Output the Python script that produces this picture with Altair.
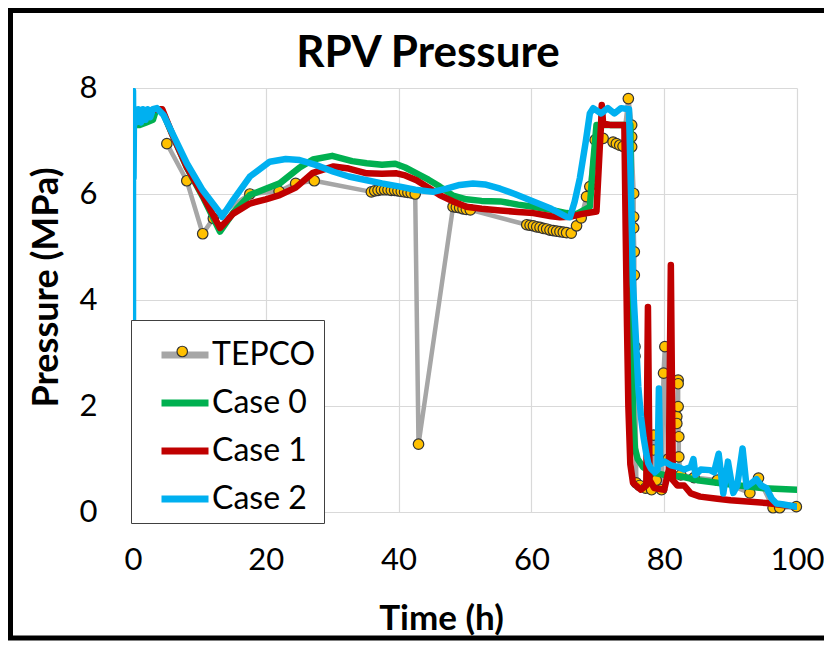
import altair as alt
import pandas as pd

# ---- data ----
series_names = ["TEPCO", "Case 0", "Case 1", "Case 2"]
series_colors = ["#A6A6A6", "#00B050", "#C00000", "#00B0F0"]

t_tepco = [5.1, 8.1, 10.5, 12.1, 17.6, 22.0, 24.5, 27.3,
           35.9, 36.4, 36.9, 37.4, 37.9, 38.4, 38.9, 39.4, 39.9, 40.4, 40.9, 41.4, 41.9, 42.5,
           43.0,
           48.2, 48.7, 49.2, 49.7, 50.2, 50.8,
           59.3, 59.8, 60.3, 60.8, 61.3, 61.8, 62.3, 62.8, 63.3, 63.8, 64.3, 64.8, 65.3, 66.0, 66.8,
           67.5, 68.3, 68.8, 69.6, 70.8, 72.3, 72.8, 73.3, 73.8,
           74.6, 75.1, 75.1, 75.1, 75.4, 75.4, 75.4, 75.5, 75.5, 75.6, 75.6,
           75.8, 76.3, 77.2, 78.1, 78.4, 78.4, 78.8, 79.6, 79.9, 80.1, 80.6, 81.9, 81.9,
           82.1, 82.1, 82.1, 82.2, 82.2, 82.5,
           84.5, 88.0, 92.9, 94.2, 96.4, 97.4, 99.9]
p_tepco = [6.95, 6.25, 5.25, 5.54, 6.0, 6.05, 6.2, 6.25,
           6.04, 6.06, 6.07, 6.08, 6.08, 6.08, 6.07, 6.07, 6.06, 6.05, 6.04, 6.03, 6.02, 6.0,
           1.28,
           5.76, 5.75, 5.74, 5.72, 5.71, 5.7,
           5.42, 5.41, 5.40, 5.38, 5.37, 5.35, 5.34, 5.32, 5.31, 5.30, 5.29, 5.28, 5.27, 5.26, 5.4,
           5.55, 5.95, 6.14, 7.02, 7.05, 6.98, 6.95, 6.92, 6.9,
           7.8, 7.3, 7.08, 6.89, 6.01, 5.57, 5.36, 4.91, 4.47, 3.12, 2.94,
           0.55, 0.5, 0.45, 0.42, 1.17, 1.45, 0.6, 0.42, 2.62, 3.12, 1.0, 1.8, 1.67,
           2.49, 2.42, 1.99, 1.42, 1.04, 0.7,
           0.65, 0.6, 0.36, 0.64, 0.08, 0.08, 0.1]

t_case0 = [0, 1, 2, 3, 3.5, 4.3, 6, 8.1, 10.5, 13.1, 15.1, 17.6, 20, 22.1, 25.1, 27.1,
           30.0, 33, 35.2, 37.5, 39.5, 41, 42.7, 44.5, 46.2, 48.2, 50.2, 52.5, 55.3, 58,
           60.3, 63, 65.3, 66.8, 68.8, 69.3, 69.8, 72, 74.9, 75.1, 75.3, 75.6, 76.0, 76.8,
           78, 80, 82.6, 85, 90, 95, 100]
p_case0 = [7.3, 7.3, 7.35, 7.4, 7.6, 7.6, 7.1, 6.5, 5.95, 5.29, 5.65, 5.98, 6.1, 6.2, 6.5, 6.65,
           6.72, 6.62, 6.58, 6.55, 6.57, 6.5, 6.39, 6.27, 6.14, 5.97, 5.9, 5.87, 5.86, 5.8,
           5.76, 5.7, 5.64, 5.62, 5.76, 6.58, 7.3, 7.3, 7.3, 3.5, 1.8, 1.2, 1.0, 0.85,
           0.75, 0.7, 0.67, 0.6, 0.52, 0.45, 0.42]

t_case1 = [0, 1.5, 3.5, 4.4, 6, 8.1, 10.6, 13.1, 15.1, 17.6, 20, 22.1, 24.5, 27.1,
           30.2, 32.5, 35.2, 37.5, 39.7, 41, 42.7, 44.5, 46.2, 48.2, 50.2, 52.5, 55.3, 58,
           60.3, 63, 64.3, 65.8, 67.5, 69.8, 70.3, 70.5, 70.6, 70.8, 72, 74.0, 74.2, 74.4,
           74.6, 74.9, 75.3, 76.5, 77.3, 77.55, 77.8, 78.5, 80.0, 80.7, 81.0, 81.3, 82, 83,
           84, 85.4, 88, 90, 95.4, 99.9]
p_case1 = [7.55, 7.55, 7.6, 7.6, 7.1, 6.51, 5.95, 5.36, 5.63, 5.82, 5.9, 5.98, 6.12, 6.4,
           6.52, 6.48, 6.39, 6.38, 6.39, 6.35, 6.26, 6.12, 5.98, 5.86, 5.76, 5.72, 5.69, 5.66,
           5.64, 5.58, 5.56, 5.57, 5.62, 5.67, 6.89, 7.33, 7.68, 7.33, 7.3, 7.3, 5.3, 3.5,
           2.0, 0.9, 0.55, 0.42, 0.5, 3.87, 0.6, 0.45, 0.42, 0.8, 4.66, 0.6, 0.5, 0.5,
           0.35, 0.29, 0.25, 0.22, 0.17, 0.1]

t_case2 = [0, 0, 0.08, 0.15, 0.5, 0.8, 1.2, 1.5, 1.9, 2.2, 2.6, 3.0, 3.6, 4.6, 6.3, 8.1,
           10.5, 13.1, 13.4, 15.1, 17.6, 20.6, 23, 25.1, 27.5, 30.2, 32.5, 35.2, 37.5, 40.2,
           42.5, 45.2, 47.2, 49.2, 51.2, 53, 55.3, 57.5, 60.3, 63, 65.3, 65.8, 66.5, 67.3,
           68.2, 68.8, 69.3, 70.5, 71.5, 72.5, 73.5, 74.7, 75.1, 75.3, 75.6, 76.1, 76.5,
           76.9, 77.3, 77.6, 78.0, 78.6, 79.0, 79.2, 79.4, 80.1, 81, 82.1, 83, 84.0, 84.4,
           84.7, 85.5, 86.9, 87.5, 88.2, 88.9, 89.6, 90.4, 91.0, 91.8, 92.4, 93.2, 93.9,
           94.6, 95.4, 96.2, 96.9, 98, 99.9]
p_case2 = [0.1, 7.95, 6.3, 7.6, 7.35, 7.6, 7.35, 7.6, 7.4, 7.6, 7.45, 7.6, 7.62, 7.49, 7.05, 6.58,
           6.07, 5.64, 5.57, 5.89, 6.33, 6.61, 6.66, 6.64, 6.55, 6.42, 6.33, 6.26, 6.2, 6.14,
           6.08, 6.04, 6.1, 6.17, 6.2, 6.18, 6.1, 6.0, 5.86, 5.72, 5.57, 5.56, 5.85, 6.3,
           7.0, 7.52, 7.62, 7.52, 7.62, 7.52, 7.62, 7.6, 5.5, 4.3, 3.6, 2.36, 1.8,
           1.4, 1.1, 0.92, 0.82, 0.75, 0.8, 2.33, 0.9, 0.95, 0.88, 0.85, 0.8, 0.85, 1.0,
           0.7, 0.8, 0.79, 0.75, 1.1, 0.35, 0.95, 0.36, 0.5, 1.2, 0.48, 0.55, 0.62,
           0.5, 0.45, 0.25, 0.16, 0.14, 0.1]

x_ticks = [0, 20, 40, 60, 80, 100]
y_ticks = [0, 2, 4, 6, 8]

# ---- build table ----
rows = []
for name, ts, ps in zip(series_names,
                        [t_tepco, t_case0, t_case1, t_case2],
                        [p_tepco, p_case0, p_case1, p_case2]):
    for i, (t, p) in enumerate(zip(ts, ps)):
        rows.append({"series": name, "t": t, "p": p, "idx": i})
df = pd.DataFrame(rows)

FONT = "Lato"
color_scale = alt.Scale(domain=series_names, range=series_colors)

legend_main = alt.Legend(
    title=None, orient="none", legendX=-2, legendY=232,
    symbolType="stroke", symbolSize=2209, symbolStrokeWidth=7,
    symbolOffset=19, labelOffset=0, labelFontSize=32, labelFont=FONT,
    labelColor="black", padding=8, rowPadding=5, fillColor="white",
    strokeColor="#404040", labelLimit=400,
    zindex=0,
)

x_enc = alt.X("t:Q", scale=alt.Scale(domain=[0, 100], nice=False),
              axis=alt.Axis(values=x_ticks, title="Time (h)", titleFontSize=35,
                            titleFontWeight="bold", labelFontSize=31, labelPadding=33,
                            titleX=308, titleY=106, titleBaseline="middle",
                            labelFlush=False))
y_enc = alt.Y("p:Q", scale=alt.Scale(domain=[0, 8], nice=False),
              axis=alt.Axis(values=y_ticks, title="Pressure (MPa)", titleFontSize=36,
                            titleFontWeight="bold", labelFontSize=31, labelPadding=36,
                            titleX=-87, titleY=199, titleAngle=270,
                            titleBaseline="middle", titleAlign="center",
                            labelFlush=False))

base = alt.Chart(df)

frame = alt.Chart(pd.DataFrame({"k": [0]})).mark_rect(
    fillOpacity=0, stroke="black", strokeWidth=5
).encode(x=alt.value(-122.5), x2=alt.value(740), y=alt.value(-77.5), y2=alt.value(550))

widths = {"TEPCO": 4.5, "Case 0": 6.5, "Case 1": 6.5, "Case 2": 6.5}


def line_layer(name):
    return base.transform_filter(alt.datum.series == name).mark_line(
        strokeWidth=widths[name], clip=True, strokeJoin="round", strokeCap="round"
    ).encode(
        x=x_enc, y=y_enc,
        color=alt.Color("series:N", scale=color_scale, legend=legend_main),
        order=alt.Order("idx:Q"),
    )


points = base.transform_filter(alt.datum.series == "TEPCO").transform_calculate(
    marker="'TEPCO'"
).mark_circle(size=110, stroke="#333333", strokeWidth=1.2, opacity=1).encode(
    x=x_enc, y=y_enc,
    fill=alt.Fill("marker:N", scale=alt.Scale(domain=["TEPCO"], range=["#FFC000"]),
                  legend=alt.Legend(title=None, orient="none", legendX=43.25, legendY=257.5,
                                    symbolType="circle", symbolSize=110,
                                    symbolStrokeColor="#333333", symbolStrokeWidth=1.2,
                                    labelExpr="''", labelFontSize=10, padding=0,
                                    symbolOffset=0, labelOffset=0, zindex=2)),
)

chart = alt.layer(
    frame,
    line_layer("TEPCO"),
    points,
    line_layer("Case 0"),
    line_layer("Case 1"),
    line_layer("Case 2"),
).properties(
    width=664, height=424,
    autosize=alt.AutoSizeParams(type="none"),
    padding={"left": 125, "top": 80, "right": 27, "bottom": 129},
    background="white",
    title=alt.TitleParams("RPV Pressure", fontSize=44, font=FONT, fontWeight="bold",
                          anchor="middle", frame="group", dx=-37, dy=109, offset=6,
                          baseline="alphabetic", color="black"),
).configure_view(stroke=None).configure_axis(
    gridColor="#D9D9D9", gridWidth=1.2, domain=False, ticks=False,
    labelFont=FONT, titleFont=FONT, labelColor="black", titleColor="black",
)

chart.save("out.html", embed_options={"renderer": "svg", "actions": False})
